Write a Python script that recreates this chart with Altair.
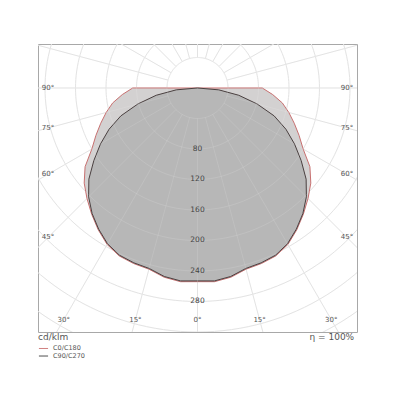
import altair as alt
import pandas as pd
import numpy as np

# ---- data (cd/klm) ----
gamma = [0, 5, 10, 15, 20, 25, 30, 35, 40, 45, 50, 55, 60, 65, 70, 75, 80, 85, 90]
c0_c180 = [254, 255, 252, 246, 245, 243, 237, 227, 216, 205, 194, 180, 160, 147, 135, 124, 113, 99, 85]
c90_c270 = [253, 254, 251, 245, 244, 242, 236, 226, 215, 202, 186, 166, 147, 128, 107, 81, 55, 28, 0]
circle_radii = [40, 80, 120, 160, 200, 240, 280, 320, 360, 400]
radius_labels = [80, 120, 160, 200, 240, 280]
side_angles = [90, 75, 60, 45]
bottom_angles = [30, 15, 0]
series_names = ["C0/C180", "C90/C270"]

# ---- layout ----
XMIN, XMAX = -209.2, 209.2
YMIN, YMAX = -320.0, 57.7
W, H = 319, 288
xs = alt.Scale(domain=[XMIN, XMAX], nice=False, zero=False)
ys = alt.Scale(domain=[YMIN, YMAX], nice=False, zero=False)
X = lambda f="x": alt.X(f"{f}:Q", scale=xs, axis=None)
Y = lambda f="y": alt.Y(f"{f}:Q", scale=ys, axis=None)


def polygon(vals, name):
    rows = []
    g = np.radians(gamma)
    v = np.array(vals, dtype=float)
    k = 0
    for i in range(len(gamma) - 1, -1, -1):
        rows.append({"x": -v[i] * np.sin(g[i]), "y": -v[i] * np.cos(g[i]), "o": k, "s": name}); k += 1
    for i in range(1, len(gamma)):
        rows.append({"x": v[i] * np.sin(g[i]), "y": -v[i] * np.cos(g[i]), "o": k, "s": name}); k += 1
    rows.append(dict(rows[0], o=k))
    return pd.DataFrame(rows)


p0 = polygon(c0_c180, series_names[0])
p90 = polygon(c90_c270, series_names[1])

# grid circles
crow = []
for r in circle_radii:
    for j, a in enumerate(np.arange(0, 361, 2)):
        t = np.radians(a)
        crow.append({"r": r, "o": j, "x": r * np.sin(t), "y": r * np.cos(t)})
circ = pd.DataFrame(crow)

# radial lines every 15 deg, from r=40 outward
rrow = []
for a in range(0, 360, 15):
    t = np.radians(a)
    rrow.append({"x": 40 * np.sin(t), "y": 40 * np.cos(t), "x2": 500 * np.sin(t), "y2": 500 * np.cos(t)})
rad = pd.DataFrame(rrow)

grid_c = alt.Chart(circ).mark_line(color="#e0e0e0", strokeWidth=1, clip=True).encode(
    x=X(), y=Y(), detail="r:N", order="o:Q")
grid_r = alt.Chart(rad).mark_rule(color="#e0e0e0", strokeWidth=1, clip=True).encode(
    x=X(), y=Y(), x2="x2:Q", y2="y2:Q")
grid_c2 = alt.Chart(circ).mark_line(color="white", opacity=0.12, strokeWidth=1, clip=True).encode(
    x=X(), y=Y(), detail="r:N", order="o:Q")
grid_r2 = alt.Chart(rad).mark_rule(color="white", opacity=0.12, strokeWidth=1, clip=True).encode(
    x=X(), y=Y(), x2="x2:Q", y2="y2:Q")

fill0 = alt.Chart(p0).mark_line(fill="#d3d1d1", stroke="#c87070", strokeWidth=1).encode(
    x=X(), y=Y(), order="o:Q")
fill90 = alt.Chart(p90).mark_line(fill="#b7b7b7", stroke="#4a4040", strokeWidth=1).encode(
    x=X(), y=Y(), order="o:Q")

# radius labels on the 0 deg axis
rl = pd.DataFrame({"x": [0.0] * len(radius_labels), "y": [-r for r in radius_labels],
                   "t": [str(r) for r in radius_labels]})
rlab = alt.Chart(rl).mark_text(fontSize=7.5, font="DejaVu Sans", color="#444444").encode(
    x=X(), y=Y(), text="t:N")

# angle labels
arow = []
for a in side_angles:
    yy = -196.0 / np.tan(np.radians(a)) if a != 90 else 0.0
    arow.append({"x": -196.0, "y": yy, "t": f"{a}°"})
    arow.append({"x": 196.0, "y": yy, "t": f"{a}°"})
for a in bottom_angles:
    xx = 304.0 * np.tan(np.radians(a))
    arow.append({"x": -xx, "y": -304.0, "t": f"{a}°"})
    if a != 0:
        arow.append({"x": xx, "y": -304.0, "t": f"{a}°"})
al = pd.DataFrame(arow)
alab = alt.Chart(al).mark_text(fontSize=7, font="DejaVu Sans", color="#555555").encode(
    x=X(), y=Y(), text="t:N")

# footer texts
foot_l = alt.Chart(pd.DataFrame({"x": [XMIN], "y": [-326.5], "t": ["cd/klm"]})).mark_text(
    fontSize=9, font="DejaVu Sans", color="#555555", align="left").encode(x=X(), y=Y(), text="t:N")
foot_r = alt.Chart(pd.DataFrame({"x": [205.5], "y": [-326.5], "t": ["η = 100%"]})).mark_text(
    fontSize=9, font="DejaVu Sans", color="#555555", align="right").encode(x=X(), y=Y(), text="t:N")

leg = pd.DataFrame({"x": [-208.0, -208.0], "x2": [-196.0, -196.0], "y": [-341.6, -351.5],
                    "s": series_names})
leg_lines = alt.Chart(leg).mark_rule(strokeWidth=1).encode(
    x=X(), y=Y(), x2="x2:Q",
    color=alt.Color("s:N", scale=alt.Scale(domain=series_names, range=["#d08080", "#505050"]), legend=None))
leg_text = alt.Chart(leg).mark_text(fontSize=6.5, font="DejaVu Sans", fill="#555555", align="left",
                                    dx=5).encode(
    x=alt.X("x2:Q", scale=xs, axis=None), y=Y(), text="s:N")

chart = alt.layer(
    grid_c, grid_r, fill0, fill90, grid_c2, grid_r2, rlab, alab, foot_l, foot_r, leg_lines, leg_text
).properties(
    width=W, height=H, autosize=alt.AutoSizeParams(type="none"),
    padding={"left": 30, "top": 36, "right": 30, "bottom": 48}, background="white"
).configure_view(stroke="#a8a8a8", strokeWidth=1)

chart.save("out.html", embed_options={"renderer": "svg", "actions": False})
